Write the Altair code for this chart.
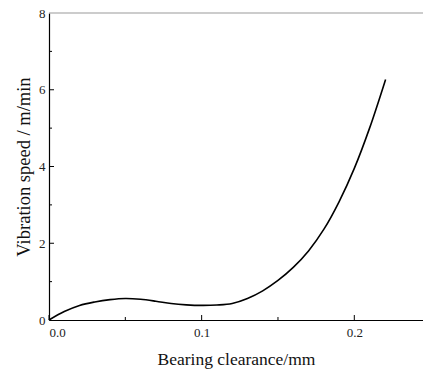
import altair as alt
import pandas as pd

clearance = [0.0, 0.01, 0.02, 0.03, 0.04, 0.05, 0.06, 0.07, 0.08, 0.09, 0.1, 0.11, 0.12, 0.13, 0.14,
             0.15, 0.16, 0.17, 0.18, 0.19, 0.2, 0.21, 0.2205]
speed = [0.0, 0.22, 0.38, 0.47, 0.53, 0.56, 0.54, 0.49, 0.43, 0.395, 0.38, 0.39, 0.43, 0.56, 0.76,
         1.03, 1.37, 1.8, 2.36, 3.08, 3.95, 5.0, 6.27]

x_major = [0.0, 0.1, 0.2]
x_minor = [0.05, 0.15]
y_major = [2, 4, 6]
y_minor = [1, 3, 5, 7]

df = pd.DataFrame({"x": clearance, "y": speed})
FONT = "Liberation Serif"

xs = alt.Scale(domain=[0, 0.245], nice=False)
ys = alt.Scale(domain=[0, 8], nice=False)

line = alt.Chart(df).mark_line(color="black", strokeWidth=1.6, interpolate="catmull-rom").encode(
    x=alt.X("x:Q", scale=xs,
            axis=alt.Axis(values=x_major, format=".1f", title="Bearing clearance/mm",
                          grid=False, tickSize=0, labelPadding=6, domainColor="black",
                          titlePadding=11, labelFont=FONT, titleFont=FONT,
                          labelFontSize=13, titleFontSize=17.5)),
    y=alt.Y("y:Q", scale=ys,
            axis=alt.Axis(values=[0, 2, 4, 6, 8], format="d", title="Vibration speed / m/min",
                          grid=False, tickSize=0, labelPadding=4, domainColor="black",
                          titlePadding=5, labelFont=FONT, titleFont=FONT,
                          labelFontSize=13, titleFontSize=18.5)),
)

top = alt.Chart(pd.DataFrame({"y": [8]})).mark_rule(color="#999999", strokeWidth=1).encode(
    y=alt.Y("y:Q", scale=ys), x=alt.value(0), x2=alt.value(374))

xt_major = alt.Chart(pd.DataFrame({"x": x_major})).mark_rule(color="black", strokeWidth=1).encode(
    x=alt.X("x:Q", scale=xs), y=alt.value(307), y2=alt.value(302))
xt_minor = alt.Chart(pd.DataFrame({"x": x_minor})).mark_rule(color="black", strokeWidth=1).encode(
    x=alt.X("x:Q", scale=xs), y=alt.value(307), y2=alt.value(304))
yt_major = alt.Chart(pd.DataFrame({"y": y_major})).mark_rule(color="black", strokeWidth=1).encode(
    y=alt.Y("y:Q", scale=ys), x=alt.value(0), x2=alt.value(5))
yt_minor = alt.Chart(pd.DataFrame({"y": y_minor})).mark_rule(color="black", strokeWidth=1).encode(
    y=alt.Y("y:Q", scale=ys), x=alt.value(0), x2=alt.value(3))

chart = alt.layer(top, xt_major, xt_minor, yt_major, yt_minor, line).properties(
    width=374, height=307,
    background="white",
    autosize=alt.AutoSizeParams(type="none"),
    padding={"left": 49, "top": 13, "right": 0, "bottom": 50},
).configure_view(stroke=None).configure_axis(
    labelFont=FONT, titleFont=FONT,
    labelColor="#222222", titleColor="#111111", titleFontWeight="normal",
    domainWidth=1.2,
)

chart.save("out.html", embed_options={"renderer": "svg", "actions": False})
